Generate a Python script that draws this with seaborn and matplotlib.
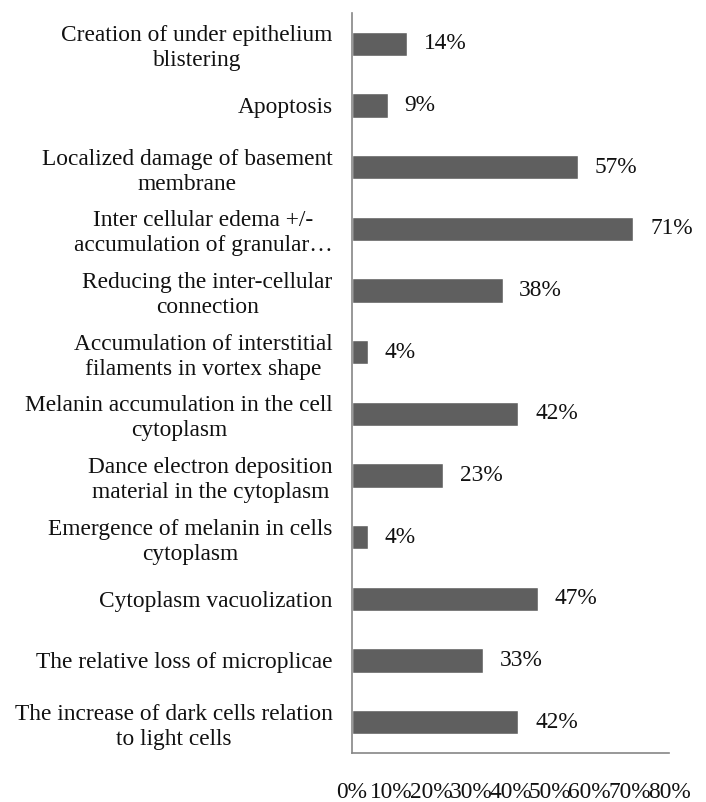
import matplotlib
matplotlib.use('Agg')
import matplotlib.pyplot as plt
import seaborn as sns
import pandas as pd

# Findings, top to bottom as shown in the chart
findings = [
    'Creation of under epithelium\nblistering',
    'Apoptosis',
    'Localized damage of basement\nmembrane',
    'Inter cellular edema +/-\naccumulation of granular\u2026',
    'Reducing the inter-cellular\nconnection',
    'Accumulation of interstitial\nfilaments in vortex shape',
    'Melanin accumulation in the cell\ncytoplasm',
    'Dance electron deposition\nmaterial in the cytoplasm',
    'Emergence of melanin in cells\ncytoplasm',
    'Cytoplasm vacuolization',
    'The relative loss of microplicae',
    'The increase of dark cells relation\nto light cells',
]
percent = [14, 9, 57, 71, 38, 4, 42, 23, 4, 47, 33, 42]
x_ticks = [0, 10, 20, 30, 40, 50, 60, 70, 80]

df = pd.DataFrame({'finding': findings, 'percent': percent})

sns.set_style('white')
plt.rcParams['font.family'] = ['Liberation Serif', 'DejaVu Serif']
font_size = 16.8
spine_color = '#868686'
text_color = '#111111'

fig = plt.figure(figsize=(7.06, 8.02), dpi=100)
ax = fig.add_axes([0.4986, 0.0611, 0.4490, 0.9227])

sns.barplot(data=df, y='finding', x='percent', orient='h', color='#5f5f5f',
            width=0.39, saturation=1, ax=ax)

for c in ax.containers:
    ax.bar_label(c, labels=[f'{v}%' for v in percent], padding=12,
                 fontsize=font_size, color=text_color)

ax.set_xlim(0, 80)
ax.set_ylim(len(findings) - 0.5, -0.5)
ax.set_xticks(x_ticks)
ax.set_xticklabels([f'{t}%' for t in x_ticks], fontsize=font_size, color=text_color)
ax.tick_params(axis='x', length=6, color=spine_color, direction='out', pad=15)

# category separators on the left spine
ax.set_yticks(range(len(findings)))
ax.set_yticklabels(findings, fontsize=font_size, color=text_color, ha='right',
                   multialignment='center', linespacing=1.25)
ax.set_yticks([i - 0.5 for i in range(len(findings) + 1)], minor=True)
ax.tick_params(axis='y', which='major', length=0, pad=14)
ax.tick_params(axis='y', which='minor', length=6, color=spine_color, direction='out')

ax.set_xlabel('')
ax.set_ylabel('')
for side in ['top', 'right']:
    ax.spines[side].set_visible(False)
for side in ['left', 'bottom']:
    ax.spines[side].set_color(spine_color)
    ax.spines[side].set_linewidth(1.2)

fig.savefig('out.png', dpi=100)
